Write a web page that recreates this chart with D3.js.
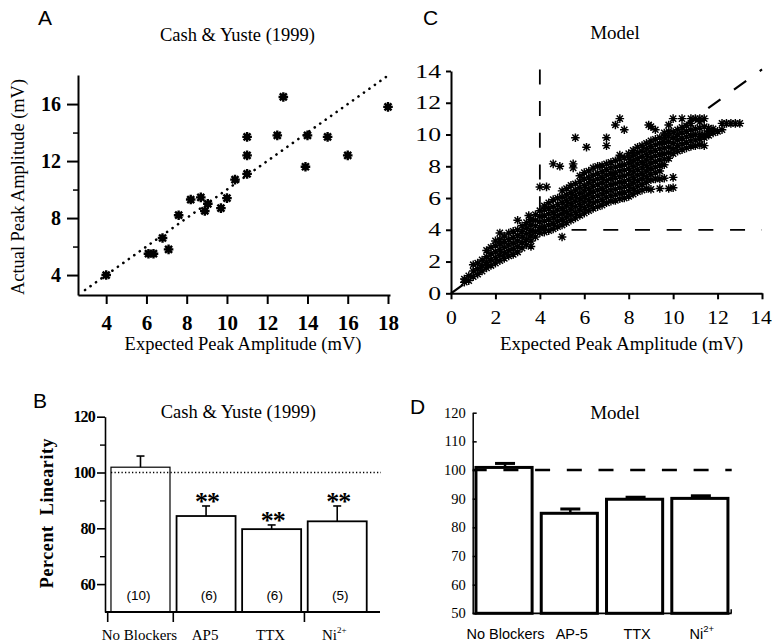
<!DOCTYPE html>
<html>
<head>
<meta charset="utf-8">
<script src="https://cdn.jsdelivr.net/npm/d3@7/dist/d3.min.js"></script>
<style>
html,body{margin:0;padding:0;background:#fff;}
svg{display:block;}
</style>
</head>
<body>
<svg id="fig" width="772" height="644"></svg>
<script>
// ---------------- DATA ----------------
// Panel A: Cash & Yuste (1999) scatter  [expected, actual]
const cashPoints = [
  [4.0,4.0],[6.1,5.5],[6.35,5.5],[6.8,6.6],[7.1,5.8],[7.6,8.2],[8.2,9.3],[8.7,9.45],
  [8.9,8.5],[9.05,9.0],[9.7,8.7],[10.0,9.4],[10.4,10.7],[11.0,11.1],[11.0,12.4],
  [11.0,13.7],[12.5,13.8],[12.8,16.5],[14.0,13.8],[13.9,11.6],[15.0,13.7],[16.0,12.4],[18.0,15.8]
];
const cashTicksX = [4,6,8,10,12,14,16,18];
const cashTicksY = [4,8,12,16];
const cashMinorY = [6,10,14];
const cashIdentity = [2.95,17.95];

// Panel C: Model scatter, columns of [expected, actual1, actual2, ...]
const modelColumns = [
  [0.6,0.7,0.9],[0.8,0.8,1.1],[1.0,1.05,1.4,1.8],[1.2,1.2,1.55,1.9],[1.4,1.4,1.75,2.1],
  [1.6,1.6,1.95,2.3,2.7],[1.8,1.75,2.1,2.5,2.9],[2.0,1.9,2.25,2.6,3.0,3.3],
  [2.2,2.05,2.4,2.75,3.1,3.4,3.8],[2.4,2.2,2.55,2.9,3.25,3.6],[2.6,2.35,2.7,3.05,3.4,3.8],
  [2.8,2.45,2.8,3.15,3.5,3.9],[3.0,2.6,2.95,3.3,3.65,4.0,4.6],[3.2,2.85,3.2,3.55,3.9,4.25],
  [3.4,3.05,3.4,3.75,4.1,4.45],[3.5,4.9],[3.6,2.95,3.3,3.6,3.95,4.3,4.65],
  [3.8,3.55,3.9,4.25,4.6,4.95],[4.0,3.8,4.15,4.5,4.85,5.2,6.7],[4.2,3.85,4.2,4.55,4.9,5.25,5.5],
  [4.3,6.7],[4.4,3.95,4.3,4.65,5.0,5.35,5.7],[4.6,4.05,4.4,4.75,5.1,5.45,5.9,8.15],
  [4.8,4.2,4.55,4.9,5.25,5.6,6.0],[4.9,8.0],[5.0,3.55,4.3,4.65,5.0,5.35,5.7,6.05,6.45],
  [5.2,4.45,4.8,5.15,5.5,5.85,6.2,6.6],[5.4,4.6,4.95,5.3,5.65,6.0,6.35,6.8],[5.5,7.9,8.15],
  [5.6,4.75,5.1,5.45,5.8,6.15,6.5,6.9,9.8],[5.8,4.9,5.25,5.6,5.95,6.3,6.65,7.05,7.4],
  [6.0,5.05,5.4,5.75,6.1,6.45,6.8,7.2,7.6],[6.1,9.2],[6.2,5.2,5.55,5.9,6.25,6.6,6.95,7.3,7.7],
  [6.4,5.35,5.7,6.05,6.4,6.75,7.1,7.45,7.9],[6.6,5.45,5.8,6.15,6.5,6.85,7.2,7.55,8.0],
  [6.8,5.55,5.9,6.25,6.6,6.95,7.3,7.65,8.05],[7.0,5.7,6.05,6.4,6.75,7.1,7.45,7.8,8.15,9.3,9.8],
  [7.2,5.8,6.15,6.5,6.85,7.2,7.55,7.9,8.25],[7.4,5.85,6.2,6.55,6.9,7.25,7.6,7.95,8.35,10.6],
  [7.6,5.95,6.3,6.65,7.0,7.35,7.7,8.05,8.45,8.7,11.0],[7.8,6.0,6.35,6.7,7.05,7.4,7.75,8.1,8.55,10.3],
  [8.0,6.1,6.45,6.8,7.15,7.5,7.85,8.2,8.55,8.8],[8.2,6.25,6.6,6.95,7.3,7.65,8.0,8.35,8.7,9.0],
  [8.4,6.4,6.75,7.1,7.45,7.8,8.15,8.5,8.85,9.2],[8.6,6.5,6.85,7.2,7.55,7.9,8.25,8.6,8.95,9.3],
  [8.8,6.6,7.0,7.35,7.7,8.05,8.4,8.75,9.1,9.45],[8.9,10.6],
  [9.0,6.55,7.15,7.5,7.85,8.2,8.55,8.9,9.25,9.6,10.5],[9.2,7.2,7.6,7.95,8.3,8.65,9.0,9.35,9.7,10.3],
  [9.4,6.6,7.2,7.7,8.05,8.4,8.75,9.1,9.45,9.8],[9.6,7.25,8.1,8.45,8.8,9.15,9.5,9.85,10.1],
  [9.8,6.6,8.5,8.85,9.2,9.55,9.9,10.2,10.6],[10.0,6.65,7.3,8.8,9.1,9.45,9.8,10.15,11.0],
  [10.2,8.95,9.3,9.65,10.0,10.3],[10.4,9.05,9.4,9.75,10.1,10.45,11.0],
  [10.6,9.15,9.5,9.85,10.2,10.55],[10.8,9.25,9.6,9.95,10.3,10.7,11.0],
  [11.0,9.3,9.65,10.0,10.35,11.0],[11.2,9.35,9.7,10.0,10.4,10.8,11.0],
  [11.4,9.3,9.8,10.0,10.5,11.0],[11.6,9.95,10.2,10.4],[11.8,10.1,10.35],[12.0,10.2],
  [12.2,10.3,10.7],[12.4,10.7],[12.6,10.7],[12.8,10.7],[13.0,10.7]
];
const modelTicks = [0,2,4,6,8,10,12,14];
const modelThreshold = 4;

// Panel B: Cash & Yuste (1999) percent linearity
const barCategoriesB = ["No Blockers","AP5","TTX","Ni"];
const barMeansB = [101.9,84.4,79.7,82.5];
const barErrB = [4.0,3.6,1.5,5.5];
const barCountsB = ["(10)","(6)","(6)","(5)"];
const barSigB = ["","**","**","**"];
const barTicksB = [60,80,100,120];
const barMinorB = [70,90,110];

// Panel D: Model percent linearity
const barCategoriesD = ["No Blockers","AP-5","TTX","Ni"];
const barMeansD = [100.9,84.9,89.8,90.1];
const barErrD = [1.4,1.5,0.7,0.9];
const barTicksD = [50,60,70,80,90,100,110,120];

// ---------------- DRAWING ----------------
const serif = "'Liberation Serif','Times New Roman',serif";
const sans = "'Liberation Sans',Arial,Helvetica,sans-serif";
const svg = d3.select("#fig");

function label(x, y, s, size, family, anchor, weight) {
  return svg.append("text").attr("x", x).attr("y", y).text(s)
    .attr("font-size", size).attr("font-family", family)
    .attr("text-anchor", anchor || "middle").attr("font-weight", weight || "normal").attr("fill","#000");
}
function niLabel(g, x, y, size, family, supSize) {
  const t = g.append("text").attr("x", x).attr("y", y).attr("text-anchor","middle")
    .attr("font-size", size).attr("font-family", family).attr("fill","#000");
  t.append("tspan").text("Ni");
  t.append("tspan").text("2+").attr("font-size", supSize).attr("dy", -size*0.45);
  return t;
}

// Panel letters
label(38, 25, "A", 21, sans, "start");
label(423, 25, "C", 21, sans, "start");
label(33, 408, "B", 21, sans, "start");
label(410, 414, "D", 21, sans, "start");

// ===== Panel A =====
{
  const g = svg.append("g");
  const x = d3.scaleLinear().domain([2.6,18.1]).range([78,390]);
  const y = d3.scaleLinear().domain([2.6,18.04]).range([295,75]);

  const ax = g.append("g").attr("transform","translate(0,295)")
    .call(d3.axisBottom(x).tickValues(cashTicksX).tickSize(9).tickSizeOuter(0));
  ax.select(".domain").attr("stroke-width",2);
  ax.selectAll(".tick line").attr("stroke-width",2);
  ax.selectAll(".tick text").attr("font-family",serif).attr("font-weight","bold")
    .attr("font-size",21).attr("y",35).attr("dy",0);

  const ay = g.append("g").attr("transform","translate(78,0)")
    .call(d3.axisLeft(y).tickValues(cashTicksY).tickSize(11).tickPadding(6).tickSizeOuter(0));
  ay.select(".domain").attr("stroke-width",2);
  ay.selectAll(".tick line").attr("stroke-width",2);
  ay.selectAll(".tick text").attr("font-family",serif).attr("font-weight","bold").attr("font-size",20);
  g.append("g").attr("transform","translate(78,0)")
    .call(d3.axisLeft(y).tickValues(cashMinorY).tickSize(5).tickFormat(""))
    .call(s => s.select(".domain").remove())
    .selectAll("line").attr("stroke-width",1.5);

  g.append("line")
    .attr("x1", x(cashIdentity[0])).attr("y1", y(cashIdentity[0]))
    .attr("x2", x(cashIdentity[1])).attr("y2", y(cashIdentity[1]))
    .attr("stroke","#000").attr("stroke-width",2.6).attr("stroke-linecap","round")
    .attr("stroke-dasharray","0.1,6.6");

  const star = "M-4.8,0H4.8M0,-4.8V4.8M-3.5,-3.5L3.5,3.5M-3.5,3.5L3.5,-3.5";
  g.selectAll("path.pa").data(cashPoints).join("path").attr("class","pa")
    .attr("transform", d => `translate(${x(d[0])},${y(d[1])})`)
    .attr("d", star).attr("stroke","#000").attr("stroke-width",2.4).attr("fill","none");
  g.selectAll("rect.pa").data(cashPoints).join("rect").attr("class","pa")
    .attr("x", d => x(d[0]) - 2.6).attr("y", d => y(d[1]) - 2.6)
    .attr("width",5.2).attr("height",5.2).attr("fill","#000");

  label(237.5, 41, "Cash & Yuste (1999)", 18.5, serif);
  label(243, 350, "Expected Peak Amplitude (mV)", 18.5, serif);
  svg.append("text").attr("transform","translate(24,187) rotate(-90)")
    .attr("text-anchor","middle").attr("font-family",serif).attr("font-size",18.4)
    .text("Actual Peak Amplitude (mV)");
}

// ===== Panel C =====
{
  const g = svg.append("g");
  const x = d3.scaleLinear().domain([0,14]).range([451,762]);
  const y = d3.scaleLinear().domain([0,14]).range([293.3,71]);
  const pts = modelColumns.flatMap(([ex, ...ys]) => ys.map(v => [ex, v]));
  const dash = "15,16.7";

  g.append("line").attr("x1",x(0)).attr("y1",y(0)).attr("x2",x(14)).attr("y2",y(14.1))
    .attr("stroke","#000").attr("stroke-width",2.2).attr("stroke-dasharray",dash);
  g.append("line").attr("x1",x(modelThreshold)).attr("y1",y(14.1)).attr("x2",x(modelThreshold)).attr("y2",y(modelThreshold))
    .attr("stroke","#000").attr("stroke-width",1.8).attr("stroke-dasharray",dash);
  g.append("line").attr("x1",x(modelThreshold)).attr("y1",y(modelThreshold)).attr("x2",x(14)).attr("y2",y(modelThreshold))
    .attr("stroke","#000").attr("stroke-width",1.8).attr("stroke-dasharray",dash);

  const star = "M-4.3,0H4.3M0,-4.3V4.3M-3.1,-3.1L3.1,3.1M-3.1,3.1L3.1,-3.1";
  g.selectAll("path.pc").data(pts).join("path").attr("class","pc")
    .attr("transform", d => `translate(${x(d[0])},${y(d[1])})`)
    .attr("d", star).attr("stroke","#000").attr("stroke-width",1.45).attr("fill","none");

  const sx = 1.2;
  const ax = g.append("g").attr("transform","translate(0,293.3)")
    .call(d3.axisBottom(x).tickValues(modelTicks).tickSize(6).tickSizeOuter(0));
  ax.select(".domain").attr("stroke-width",2);
  ax.selectAll(".tick line").attr("stroke-width",2);
  ax.selectAll(".tick text").attr("font-family",serif).attr("font-size",18)
    .attr("y",31).attr("dy",0)
    .attr("transform",(d,i) => (i === modelTicks.length-1 ? "translate(-1.5,0) " : "") + `scale(${sx},1)`);

  const ay = g.append("g").attr("transform","translate(451,0)")
    .call(d3.axisLeft(y).tickValues(modelTicks).tickSize(5).tickSizeOuter(0));
  ay.select(".domain").attr("stroke-width",2);
  ay.selectAll(".tick line").attr("stroke-width",2);
  ay.selectAll(".tick text").attr("font-family",serif).attr("font-size",19)
    .attr("x", -10/1.35).attr("transform","scale(1.35,1)");

  label(615, 39, "Model", 19, serif);
  label(621.5, 350, "Expected Peak Amplitude (mV)", 19, serif);
}

// ===== Panel B =====
{
  const g = svg.append("g");
  const y = d3.scaleLinear().domain([50,120]).range([612,416.7]);
  const x = d3.scaleBand().domain(barCategoriesB).range([107.7,370]).paddingInner(0.1).paddingOuter(0.05);

  g.selectAll("rect.b").data(barCategoriesB).join("rect").attr("class","b")
    .attr("x", d => x(d)).attr("width", x.bandwidth())
    .attr("y", (d,i) => y(barMeansB[i])).attr("height", (d,i) => y(50) - y(barMeansB[i]))
    .attr("fill","#fff").attr("stroke","#000").attr("stroke-width",(d,i)=> i===0 ? 1.2 : 1.8);

  g.selectAll("line.eb").data(barCategoriesB).join("line").attr("class","eb")
    .attr("x1", d => x(d) + x.bandwidth()/2).attr("x2", d => x(d) + x.bandwidth()/2)
    .attr("y1", (d,i) => y(barMeansB[i])).attr("y2", (d,i) => y(barMeansB[i] + barErrB[i]))
    .attr("stroke","#000").attr("stroke-width",1.6);
  g.selectAll("line.ec").data(barCategoriesB).join("line").attr("class","ec")
    .attr("x1", d => x(d) + x.bandwidth()/2 - 4).attr("x2", d => x(d) + x.bandwidth()/2 + 4)
    .attr("y1", (d,i) => y(barMeansB[i] + barErrB[i])).attr("y2", (d,i) => y(barMeansB[i] + barErrB[i]))
    .attr("stroke","#000").attr("stroke-width",1.6);

  g.append("line").attr("x1", x(barCategoriesB[0])).attr("x2", 381)
    .attr("y1", y(100)).attr("y2", y(100))
    .attr("stroke","#000").attr("stroke-width",1.3).attr("stroke-dasharray","1.3,2.2");

  // axes
  const ay = g.append("g").attr("transform","translate(105,0)")
    .call(d3.axisLeft(y).tickValues(barTicksB).tickSize(8).tickPadding(2).tickSizeOuter(0));
  ay.select(".domain").attr("stroke-width",1.6);
  ay.selectAll(".tick line").attr("stroke-width",1.6);
  ay.selectAll(".tick text").attr("font-family",serif).attr("font-weight","bold")
    .attr("font-size",16).attr("letter-spacing",-0.8);
  g.append("g").attr("transform","translate(105,0)")
    .call(d3.axisLeft(y).tickValues(barMinorB).tickSize(5).tickFormat(""))
    .call(s => s.select(".domain").remove())
    .selectAll("line").attr("stroke-width",1.4);

  g.append("line").attr("x1",105).attr("x2",380).attr("y1",y(50)).attr("y2",y(50))
    .attr("stroke","#000").attr("stroke-width",1.8);
  const edges = barCategoriesB.map(d => x(d) - x.step()*x.paddingInner()/2).concat([x(barCategoriesB[3]) + x.bandwidth() + x.step()*x.paddingInner()/2]);
  g.selectAll("line.xt").data(edges.slice(0,2).concat([edges[3]])).join("line").attr("class","xt")
    .attr("x1", d => d).attr("x2", d => d).attr("y1", y(50)).attr("y2", y(50) + 10)
    .attr("stroke","#000").attr("stroke-width",1.6);

  barCategoriesB.forEach((c,i) => {
    const cx = x(c) + x.bandwidth()/2;
    if (c === "Ni") niLabel(g, cx - 3, 640, 15, serif, 9);
    else g.append("text").attr("x", cx - 1).attr("y", 640).attr("text-anchor","middle")
      .attr("font-family",serif).attr("font-size",15).text(c);
    g.append("text").attr("x", cx + (i===0 ? -2 : 3)).attr("y", 600).attr("text-anchor","middle")
      .attr("font-family",sans).attr("font-size",13.5).text(barCountsB[i]);
    if (barSigB[i]) g.append("text").attr("x", cx + 1).attr("y", y(barMeansB[i] + barErrB[i]) + 4)
      .attr("text-anchor","middle").attr("font-family",serif).attr("font-weight","bold")
      .attr("font-size",26).attr("letter-spacing",-1).text(barSigB[i]);
  });

  label(238.3, 418, "Cash & Yuste (1999)", 18.5, serif);
  svg.append("text").attr("transform","translate(53,513) rotate(-90)")
    .attr("text-anchor","middle").attr("font-family",serif).attr("font-weight","bold")
    .attr("font-size",18).attr("letter-spacing",0.6).attr("xml:space","preserve")
    .text("Percent  Linearity");
}

// ===== Panel D =====
{
  const g = svg.append("g");
  const y = d3.scaleLinear().domain([50,120]).range([613.3,412.7]);
  const x = d3.scaleBand().domain(barCategoriesD).range([472.7,731.2]).paddingInner(0.14).paddingOuter(0.05);

  g.selectAll("rect.d").data(barCategoriesD).join("rect").attr("class","d")
    .attr("x", d => x(d)).attr("width", x.bandwidth())
    .attr("y", (d,i) => y(barMeansD[i])).attr("height", (d,i) => y(50) - y(barMeansD[i]))
    .attr("fill","#fff").attr("stroke","#000").attr("stroke-width",3);

  g.selectAll("line.eb").data(barCategoriesD).join("line").attr("class","eb")
    .attr("x1", d => x(d) + x.bandwidth()/2 + 1).attr("x2", d => x(d) + x.bandwidth()/2 + 1)
    .attr("y1", (d,i) => y(barMeansD[i])).attr("y2", (d,i) => y(barMeansD[i] + barErrD[i]))
    .attr("stroke","#000").attr("stroke-width",2.5);
  g.selectAll("line.ec").data(barCategoriesD).join("line").attr("class","ec")
    .attr("x1", d => x(d) + x.bandwidth()/2 - 9).attr("x2", d => x(d) + x.bandwidth()/2 + 11)
    .attr("y1", (d,i) => y(barMeansD[i] + barErrD[i])).attr("y2", (d,i) => y(barMeansD[i] + barErrD[i]))
    .attr("stroke","#000").attr("stroke-width",3);

  g.append("line").attr("x1", 472.7).attr("x2", 731.7).attr("y1", y(100)).attr("y2", y(100))
    .attr("stroke","#000").attr("stroke-width",2.6).attr("stroke-dasharray","15,16.7").attr("stroke-dashoffset",1);

  const ay = g.append("g").attr("transform","translate(472.7,0)")
    .call(d3.axisLeft(y).tickValues(barTicksD).tickSize(-4).tickPadding(7).tickSizeOuter(0));
  ay.select(".domain").attr("stroke-width",1.5);
  ay.selectAll(".tick line").attr("stroke-width",1.5);
  ay.selectAll(".tick text").attr("font-family",serif).attr("font-size",14.5);

  g.append("line").attr("x1",472.7).attr("x2",731.7).attr("y1",y(50)).attr("y2",y(50))
    .attr("stroke","#000").attr("stroke-width",1.8);
  g.append("line").attr("x1",731.2).attr("x2",731.2).attr("y1",y(50)).attr("y2",y(50)-4)
    .attr("stroke","#000").attr("stroke-width",1.5);

  barCategoriesD.forEach((c,i) => {
    const cx = x(c) + x.bandwidth()/2;
    if (c === "Ni") niLabel(g, cx + 2, 639, 14.5, sans, 9.5);
    else g.append("text").attr("x", cx + (i===0 ? 1.5 : 2.5)).attr("y", 639).attr("text-anchor","middle")
      .attr("font-family",sans).attr("font-size",14.5).text(c);
  });

  label(615, 419, "Model", 19, serif);
}
</script>
</body>
</html>
